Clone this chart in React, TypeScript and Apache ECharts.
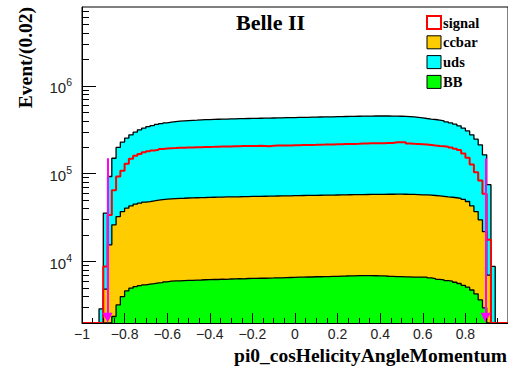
import { useEffect, useRef } from 'react';
import * as echarts from 'echarts';

// Histogram binning: 100 bins of width 0.02 over [-1, 1]
const binLow = -1;
const binWidth = 0.02;

// Events per bin for each component (bin 0 starts at -1)
const bbEvents = [
  0, 0, 0, 0, 0, 0, 1500, 2370, 3210, 4000,
  4640, 4980, 5190, 5330, 5430, 5530, 5620, 5720, 5770, 5880,
  5980, 6020, 6040, 6080, 6100, 6120, 6160, 6170, 6210, 6220,
  6260, 6250, 6300, 6290, 6340, 6350, 6380, 6370, 6420, 6430,
  6430, 6470, 6460, 6500, 6510, 6540, 6530, 6580, 6590, 6600,
  6640, 6640, 6680, 6680, 6720, 6720, 6760, 6760, 6800, 6800,
  6840, 6850, 6880, 6880, 6920, 6910, 6940, 6910, 6900, 6870,
  6860, 6810, 6800, 6750, 6730, 6690, 6690, 6660, 6670, 6640,
  6640, 6510, 6410, 6290, 6200, 6070, 5990, 5820, 5630, 5370,
  5110, 4750, 4280, 3660, 2980, 1500, 0, 0, 0, 0,
];

const ccbarEvents = [
  0, 0, 0, 0, 0, 4850, 14000, 23830, 29290, 33100,
  35860, 38020, 39810, 40870, 41970, 42670, 43480, 44280, 45030, 45420,
  45820, 46080, 46350, 46520, 46810, 46960, 47150, 47330, 47390, 47580,
  47740, 47840, 47900, 48100, 48160, 48250, 48320, 48520, 48580, 48670,
  48770, 48830, 48940, 49000, 49100, 49260, 49360, 49420, 49520, 49590,
  49660, 49860, 49920, 50020, 50080, 50180, 50240, 50340, 50400, 50500,
  50560, 50650, 50740, 50800, 50900, 50970, 51080, 51170, 51310, 51410,
  51450, 51590, 51600, 51750, 51770, 51710, 51610, 51440, 51230, 50960,
  50760, 50480, 50100, 49700, 49110, 48420, 48020, 47470, 46780, 45620,
  43200, 38240, 32830, 26230, 18930, 5500, 0, 0, 0, 0,
];

const udsEvents = [
  0, 0, 0, 0, 2900, 30750, 77500, 123800, 166500, 191900,
  213500, 234000, 252000, 269800, 282600, 295800, 303900, 314000, 321200, 327700,
  334200, 338900, 343600, 346400, 349100, 351900, 353700, 356500, 358400, 359200,
  361000, 362900, 363800, 364200, 366500, 367400, 368300, 369100, 370000, 370900,
  371800, 372700, 373600, 374500, 375400, 376200, 377100, 378400, 378900, 379800,
  380700, 381500, 382400, 383300, 384200, 385100, 386000, 386900, 387400, 388700,
  389600, 390500, 391400, 392300, 393200, 394100, 395000, 394900, 395800, 395700,
  395700, 395600, 394600, 393500, 392500, 390600, 388700, 384900, 380100, 374400,
  367600, 362000, 357500, 351000, 344700, 334500, 325000, 312700, 298600, 279000,
  258700, 234000, 209900, 183100, 142100, 68000, 8800, 0, 0, 0,
];

const signalEvents = [
  0, 0, 0, 0, 0, 8800, 34000, 65000, 93000, 108000,
  130000, 148000, 160000, 168000, 175000, 180000, 184000, 187000, 191000, 194000,
  195000, 196000, 197500, 197800, 198600, 199200, 200100, 199800, 201000, 201900,
  202200, 202800, 203500, 203900, 204300, 205100, 205000, 206200, 206400, 207100,
  207300, 208000, 206900, 205200, 208300, 208900, 209400, 210100, 210000, 210900,
  211300, 212000, 212300, 212800, 213400, 214100, 214600, 215200, 215600, 216300,
  216800, 217500, 218100, 218600, 219300, 220100, 220600, 221800, 222000, 222900,
  222300, 223200, 224100, 227800, 228900, 228200, 221400, 219300, 218000, 216700,
  215000, 212300, 209100, 207000, 205000, 203000, 199000, 193000, 186000, 170000,
  152000, 127000, 104000, 84000, 59000, 17700, 0, 0, 0, 0,
];

// Axis ranges and tick positions
const xRange = [-1, 1];
const yRange = [2000, 7.9e6];
const decadeTicks = [1e4, 1e5, 1e6];
const minorTicks = [
  3e3, 4e3, 5e3, 6e3, 7e3, 8e3, 9e3,
  2e4, 3e4, 4e4, 5e4, 6e4, 7e4, 8e4, 9e4,
  2e5, 3e5, 4e5, 5e5, 6e5, 7e5, 8e5, 9e5,
  2e6, 3e6, 4e6, 5e6, 6e6, 7e6,
];

// Selection cut positions, drawn as arrows
const cutValues = [-0.88, 0.895];
const cutArrowSpan = [1.5e5, 2300];

const legendNames = ['signal', 'ccbar', 'uds', 'BB'];

const SERIF = '"Liberation Serif", "Times New Roman", serif';
const SANS = '"Liberation Sans", Arial, sans-serif';

// Turn bin contents into step-line points at bin edges
function stepPoints(values: number[]) {
  const floor = yRange[0];
  const pts = values.map((v, i) => [binLow + i * binWidth, Math.max(v, floor)]);
  pts.push([binLow + values.length * binWidth, Math.max(values[values.length - 1], floor)]);
  return pts;
}

export default function App() {
  const ref = useRef<HTMLDivElement>(null);

  useEffect(() => {
    if (!ref.current) return;
    const chart = echarts.init(ref.current, undefined, { renderer: 'svg' });

    // ROOT-style stack: each layer drawn as cumulative sum, largest first
    const bbCum = bbEvents.map((v) => v);
    const ccCum = bbEvents.map((v, i) => v + ccbarEvents[i]);
    const allCum = ccCum.map((v, i) => v + udsEvents[i]);

    const stackLayer = (name: string, values: number[], fill: string) => ({
      name,
      type: 'line',
      step: 'end',
      data: stepPoints(values),
      symbol: 'none',
      silent: true,
      clip: true,
      lineStyle: { color: '#000', width: 1.3 },
      itemStyle: { color: fill },
      areaStyle: { color: fill, opacity: 1, origin: 'start' },
      emphasis: { disabled: true },
    });

    const option: any = {
      animation: false,
      backgroundColor: '#fff',
      textStyle: { fontFamily: SANS },
      grid: {
        left: 82,
        top: 7,
        width: 426.6,
        height: 316,
        show: true,
        borderColor: '#000',
        borderWidth: 1,
        backgroundColor: 'transparent',
        containLabel: false,
      },
      legend: {
        orient: 'vertical',
        left: 421,
        top: 10,
        itemWidth: 14,
        itemHeight: 13,
        itemGap: 4.8,
        selectedMode: false,
        textStyle: {
          fontFamily: SERIF,
          fontWeight: 'bold',
          fontSize: 14.5,
          color: '#000',
          padding: [0, 0, 0, -3],
        },
        data: [
          { name: legendNames[0], icon: 'rect', itemStyle: { color: '#ffffff', borderColor: '#ff0000', borderWidth: 2 } },
          { name: legendNames[1], icon: 'rect', itemStyle: { color: '#ffcc00', borderColor: '#000', borderWidth: 1 } },
          { name: legendNames[2], icon: 'rect', itemStyle: { color: '#00ffff', borderColor: '#000', borderWidth: 1 } },
          { name: legendNames[3], icon: 'rect', itemStyle: { color: '#00ff00', borderColor: '#000', borderWidth: 1 } },
        ],
      },
      xAxis: {
        type: 'value',
        min: xRange[0],
        max: xRange[1],
        interval: 0.2,
        z: 10,
        axisLine: { show: true, onZero: false, lineStyle: { color: '#000', width: 1 } },
        axisTick: { show: true, inside: true, length: 10, lineStyle: { color: '#000' } },
        minorTick: { show: true, splitNumber: 4, length: 5, lineStyle: { color: '#000' } },
        splitLine: { show: false },
        axisLabel: {
          show: true,
          margin: 4,
          fontSize: 14,
          fontFamily: SANS,
          color: '#222',
          showMaxLabel: false,
          formatter: (v: number) => {
            const s = String(Math.abs(+v.toFixed(2)));
            return v < -1e-9 ? '\u2212' + s : s;
          },
        },
      },
      yAxis: [
        {
          type: 'log',
          logBase: 10,
          min: yRange[0],
          max: yRange[1],
          position: 'left',
          z: 10,
          axisLine: { show: true, onZero: false, lineStyle: { color: '#000', width: 1 } },
          axisTick: { show: true, inside: true, length: 14, customValues: decadeTicks, lineStyle: { color: '#000' } },
          splitLine: { show: false },
          axisLabel: {
            show: true,
            margin: 10,
            customValues: decadeTicks,
            formatter: (v: number) => `{b|10}{s|${Math.round(Math.log10(v))}}`,
            rich: {
              b: { fontSize: 15, lineHeight: 18, fontFamily: SANS, color: '#222', verticalAlign: 'bottom' },
              s: { fontSize: 10.5, lineHeight: 10, fontFamily: SANS, color: '#222', verticalAlign: 'top' },
            },
          },
        },
        {
          type: 'log',
          logBase: 10,
          min: yRange[0],
          max: yRange[1],
          position: 'left',
          z: 10,
          axisLine: { show: false, onZero: false },
          axisTick: { show: true, inside: true, length: 7, customValues: minorTicks, lineStyle: { color: '#000' } },
          axisLabel: { show: false },
          splitLine: { show: false },
        },
      ],
      series: [
        stackLayer('uds', allCum, '#00ffff'),
        stackLayer('ccbar', ccCum, '#ffcc00'),
        stackLayer('BB', bbCum, '#00ff00'),
        {
          name: 'signal',
          type: 'line',
          step: 'end',
          data: stepPoints(signalEvents),
          symbol: 'none',
          silent: true,
          clip: true,
          lineStyle: { color: '#ff0000', width: 2 },
          itemStyle: { color: '#ff0000' },
          emphasis: { disabled: true },
          markLine: {
            silent: true,
            symbol: ['none', 'triangle'],
            symbolSize: [10, 10],
            label: { show: false },
            lineStyle: { color: '#ff00ff', width: 2, type: 'solid' },
            itemStyle: { color: '#ff00ff' },
            emphasis: { disabled: true },
            data: cutValues.map((c) => [
              { coord: [c, cutArrowSpan[0]] },
              { coord: [c, cutArrowSpan[1]] },
            ]),
          },
        },
      ],
      graphic: [
        {
          type: 'text',
          x: 236,
          y: 22,
          silent: true,
          style: {
            text: 'Belle II',
            font: `bold 22px ${SERIF}`,
            fill: '#000',
            align: 'left',
            verticalAlign: 'middle',
            textAlign: 'left',
            textVerticalAlign: 'middle',
          },
        },
        {
          type: 'text',
          x: 507,
          y: 355,
          silent: true,
          style: {
            text: 'pi0_cosHelicityAngleMomentum',
            font: `bold 19.5px ${SERIF}`,
            fill: '#000',
            align: 'right',
            verticalAlign: 'middle',
            textAlign: 'right',
            textVerticalAlign: 'middle',
          },
        },
        {
          type: 'text',
          x: 25,
          y: 7,
          rotation: Math.PI / 2,
          silent: true,
          style: {
            text: 'Event/(0.02)',
            font: `bold 19.5px ${SERIF}`,
            fill: '#000',
            align: 'right',
            verticalAlign: 'middle',
            textAlign: 'right',
            textVerticalAlign: 'middle',
          },
        },
      ],
    };

    chart.setOption(option);
    return () => chart.dispose();
  }, []);

  return (
    <div
      ref={ref}
      style={{ position: 'absolute', left: 0, top: 0, width: 508, height: 369, background: '#fff' }}
    />
  );
}
